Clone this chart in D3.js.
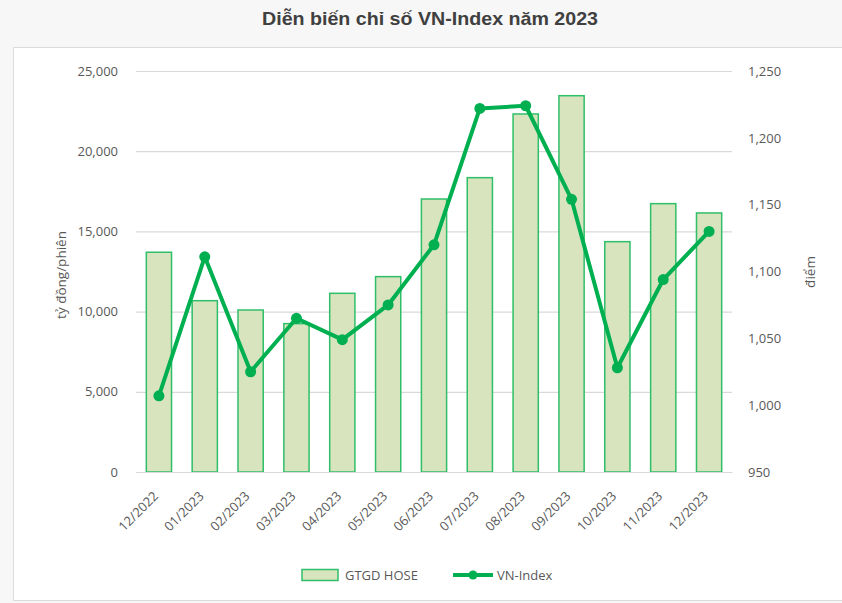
<!DOCTYPE html>
<html>
<head>
<meta charset="utf-8">
<script src="https://cdn.jsdelivr.net/npm/d3@7"></script>
<style>
  body { margin: 0; background: #f7f7f7; }
  svg { display: block; }
</style>
</head>
<body>
<div id="chart"></div>
<script>
const months = ['12/2022', '01/2023', '02/2023', '03/2023', '04/2023', '05/2023', '06/2023',
  '07/2023', '08/2023', '09/2023', '10/2023', '11/2023', '12/2023'];
const gtgd = [13700, 10680, 10100, 9250, 11140, 12180, 17020, 18350, 22320, 23460, 14360, 16730, 16150];
const vnindex = [1007, 1111, 1025, 1065, 1049, 1075, 1120, 1222, 1224, 1154, 1028, 1094, 1130];
const leftTicks = [0, 5000, 10000, 15000, 20000, 25000];
const rightTicks = [950, 1000, 1050, 1100, 1150, 1200, 1250];

const width = 842;
const height = 603;
const tickFont = '"Open Sans", "Noto Sans", sans-serif';
const textColor = '#595959';
const green = '#00b050';

const svg = d3.select('#chart')
  .append('svg')
  .attr('width', width)
  .attr('height', height);

// background + white panel
svg.append('rect').attr('width', width).attr('height', height).attr('fill', '#f7f7f7');
svg.append('rect')
  .attr('x', 13.5).attr('y', 47.5)
  .attr('width', width).attr('height', 553)
  .attr('fill', '#fff')
  .attr('stroke', '#dcdcdc');

svg.append('text')
  .attr('x', 430).attr('y', 25)
  .attr('text-anchor', 'middle')
  .attr('textLength', 336)
  .attr('lengthAdjust', 'spacingAndGlyphs')
  .style('font-family', '"Liberation Sans", sans-serif')
  .style('font-weight', 'bold')
  .style('font-size', '19px')
  .attr('fill', '#404040')
  .text('Diễn biến chỉ số VN-Index năm 2023');

const plot = { left: 136, right: 732, top: 71, bottom: 472 };

const x = d3.scaleBand()
  .domain(months)
  .range([plot.left, plot.right])
  .paddingInner(0.45)
  .paddingOuter(0.225);

const yLeft = d3.scaleLinear().domain([0, 25000]).range([plot.bottom, plot.top]);
const yRight = d3.scaleLinear().domain([950, 1250]).range([plot.bottom, plot.top]);

// gridlines
svg.append('g')
  .attr('transform', `translate(${plot.left},0)`)
  .call(d3.axisLeft(yLeft).tickValues(leftTicks).tickFormat('').tickSize(-(plot.right - plot.left)))
  .call(g => g.select('.domain').remove())
  .call(g => g.selectAll('line').attr('stroke', '#d9d9d9').attr('stroke-width', 1.2));

// left axis labels
svg.append('g')
  .attr('transform', `translate(${plot.left},0)`)
  .call(d3.axisLeft(yLeft).tickValues(leftTicks).tickFormat(d3.format(',')).tickSize(0).tickPadding(18))
  .call(g => g.select('.domain').remove())
  .call(g => g.selectAll('text')
    .style('font-family', tickFont).style('font-size', '13px').attr('fill', textColor));

// right axis labels
svg.append('g')
  .attr('transform', `translate(${plot.right},0)`)
  .call(d3.axisRight(yRight).tickValues(rightTicks).tickFormat(d3.format(',')).tickSize(0).tickPadding(16))
  .call(g => g.select('.domain').remove())
  .call(g => g.selectAll('text')
    .style('font-family', tickFont).style('font-size', '13px').attr('fill', textColor));

// bars
svg.append('g')
  .selectAll('rect')
  .data(gtgd)
  .join('rect')
  .attr('x', (d, i) => x(months[i]))
  .attr('y', d => yLeft(d))
  .attr('width', x.bandwidth())
  .attr('height', d => yLeft(0) - yLeft(d))
  .attr('fill', '#d7e4bd')
  .attr('stroke', '#2fbf68')
  .attr('stroke-width', 1.5);

// x axis, labels rotated
svg.append('g')
  .attr('transform', `translate(0,${plot.bottom})`)
  .call(d3.axisBottom(x).tickSize(0))
  .call(g => g.select('.domain').attr('stroke', '#d9d9d9').attr('stroke-width', 1.2))
  .call(g => g.selectAll('text')
    .style('font-family', tickFont).style('font-size', '13px').attr('fill', textColor)
    .attr('text-anchor', 'end')
    .attr('y', 0).attr('dy', 0)
    .attr('transform', 'translate(0,25) rotate(-45)'));

// line
const line = d3.line()
  .x((d, i) => x(months[i]) + x.bandwidth() / 2)
  .y(d => yRight(d));

svg.append('path')
  .datum(vnindex)
  .attr('d', line)
  .attr('fill', 'none')
  .attr('stroke', green)
  .attr('stroke-width', 4)
  .attr('stroke-linejoin', 'round');

svg.append('g')
  .selectAll('circle')
  .data(vnindex)
  .join('circle')
  .attr('cx', (d, i) => x(months[i]) + x.bandwidth() / 2)
  .attr('cy', d => yRight(d))
  .attr('r', 5.5)
  .attr('fill', green);

// axis titles
svg.append('text')
  .attr('transform', 'translate(66,275) rotate(-90)')
  .attr('text-anchor', 'middle')
  .style('font-family', tickFont).style('font-size', '13.5px').attr('fill', textColor)
  .text('tỷ đồng/phiên');

svg.append('text')
  .attr('transform', 'translate(815,272) rotate(-90)')
  .attr('text-anchor', 'middle')
  .style('font-family', tickFont).style('font-size', '13.5px').attr('fill', textColor)
  .text('điểm');

// legend
const legend = svg.append('g').attr('transform', 'translate(0,575)');
legend.append('rect')
  .attr('x', 302).attr('y', -5.5).attr('width', 36).attr('height', 11)
  .attr('fill', '#d7e4bd').attr('stroke', '#2fbf68').attr('stroke-width', 1.5);
legend.append('text')
  .attr('x', 345).attr('y', 0).attr('dy', '0.35em')
  .style('font-family', tickFont).style('font-size', '13px').attr('fill', textColor)
  .text('GTGD HOSE');
legend.append('line')
  .attr('x1', 453).attr('x2', 493).attr('y1', 0).attr('y2', 0)
  .attr('stroke', green).attr('stroke-width', 4);
legend.append('circle').attr('cx', 473).attr('cy', 0).attr('r', 4.5).attr('fill', green);
legend.append('text')
  .attr('x', 497).attr('y', 0).attr('dy', '0.35em')
  .style('font-family', tickFont).style('font-size', '13px').attr('fill', textColor)
  .text('VN-Index');
</script>
</body>
</html>
